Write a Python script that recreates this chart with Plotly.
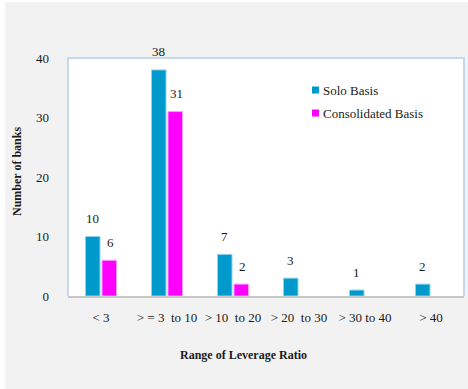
import plotly.graph_objects as go

# Data
categories = ["< 3", "> = 3  to 10", "> 10  to 20", "> 20  to 30", "> 30 to 40", "> 40"]
solo_basis = [10, 38, 7, 3, 1, 2]
consolidated_basis = [6, 31, 2, None, None, None]
y_ticks = [0, 10, 20, 30, 40]

W, H = 468, 389
M_L, M_R, M_T, M_B = 68, 4, 58, 93
PW, PH = W - M_L - M_R, H - M_T - M_B


def px_x(px):
    return (px - M_L) / PW


def px_y(py):
    return (H - M_B - py) / PH


SERIF = "Liberation Serif, Times New Roman, serif"
SOLO = "#0099cc"
CONS = "#ff00ff"
TXT = "#1a1a1a"

fig = go.Figure()
fig.add_trace(go.Bar(
    x=categories, y=solo_basis, name="Solo Basis",
    marker=dict(color=SOLO, line=dict(color="#8fd3ec", width=1)),
    showlegend=False,
))
fig.add_trace(go.Bar(
    x=categories, y=consolidated_basis, name="Consolidated Basis",
    marker=dict(color=CONS, line=dict(color="#ff9cff", width=1)),
    showlegend=False,
))

# value labels above the bars
annotations = []
for cat, v in zip(categories, solo_basis):
    if v is not None:
        annotations.append(dict(x=cat, y=v, xref="x", yref="y", text=str(v),
                                showarrow=False, xshift=-9, yshift=18, yanchor="middle",
                                font=dict(family=SERIF, size=13, color=TXT)))
for cat, v in zip(categories, consolidated_basis):
    if v is not None:
        annotations.append(dict(x=cat, y=v, xref="x", yref="y", text=str(v),
                                showarrow=False, xshift=9.5, yshift=18, yanchor="middle",
                                font=dict(family=SERIF, size=13, color=TXT)))

# axis titles
annotations.append(dict(x=px_x(243), y=px_y(355), xref="paper", yref="paper",
                        text="<b>Range of Leverage Ratio</b>", showarrow=False,
                        xanchor="center", yanchor="middle",
                        font=dict(family=SERIF, size=12, color=TXT)))
annotations.append(dict(x=px_x(17), y=px_y(172), xref="paper", yref="paper",
                        text="<b>Number of banks</b>", showarrow=False, textangle=-90,
                        xanchor="center", yanchor="middle",
                        font=dict(family=SERIF, size=12, color=TXT)))

# legend
legend_items = [("Solo Basis", SOLO, 90), ("Consolidated Basis", CONS, 113)]
shapes = []
for label, col, ly in legend_items:
    shapes.append(dict(type="rect", xref="paper", yref="paper",
                       x0=px_x(312), x1=px_x(319), y0=px_y(ly + 3.5), y1=px_y(ly - 3.5),
                       fillcolor=col, line=dict(width=0)))
    annotations.append(dict(x=px_x(320.5), y=px_y(ly), xref="paper", yref="paper",
                            text=label, showarrow=False, xanchor="left", yanchor="middle",
                            font=dict(family=SERIF, size=13, color=TXT)))

# white page edge around the grey chart area
shapes.append(dict(type="rect", xref="paper", yref="paper",
                   x0=px_x(0), x1=px_x(5), y0=px_y(H), y1=px_y(0),
                   fillcolor="white", line=dict(width=0), layer="below"))
shapes.append(dict(type="rect", xref="paper", yref="paper",
                   x0=px_x(0), x1=px_x(W), y0=px_y(2), y1=px_y(0),
                   fillcolor="white", line=dict(width=0), layer="below"))
# plot area frame (left, top, right)
shapes.append(dict(type="path", xref="paper", yref="paper",
                   path="M 0,0 L 0,1 L 1,1 L 1,0",
                   line=dict(color="#c6d8ef", width=2), layer="above"))

fig.update_layout(
    width=W, height=H,
    margin=dict(l=M_L, r=M_R, t=M_T, b=M_B),
    paper_bgcolor="#f2f2f2",
    plot_bgcolor="white",
    barmode="group",
    bargap=0.5,
    bargroupgap=0.12,
    showlegend=False,
    annotations=annotations,
    shapes=shapes,
    xaxis=dict(
        type="category",
        showline=True, linecolor="#c8c8c8", linewidth=2,
        showgrid=False, ticks="", ticklabelstandoff=8,
        tickfont=dict(family=SERIF, size=13, color=TXT),
    ),
    yaxis=dict(
        range=[0, 40], tickvals=y_ticks,
        showline=False, showgrid=False, zeroline=False, ticks="",
        ticklabelstandoff=18,
        tickfont=dict(family=SERIF, size=13, color=TXT),
    ),
)

fig.write_html("out.html")
